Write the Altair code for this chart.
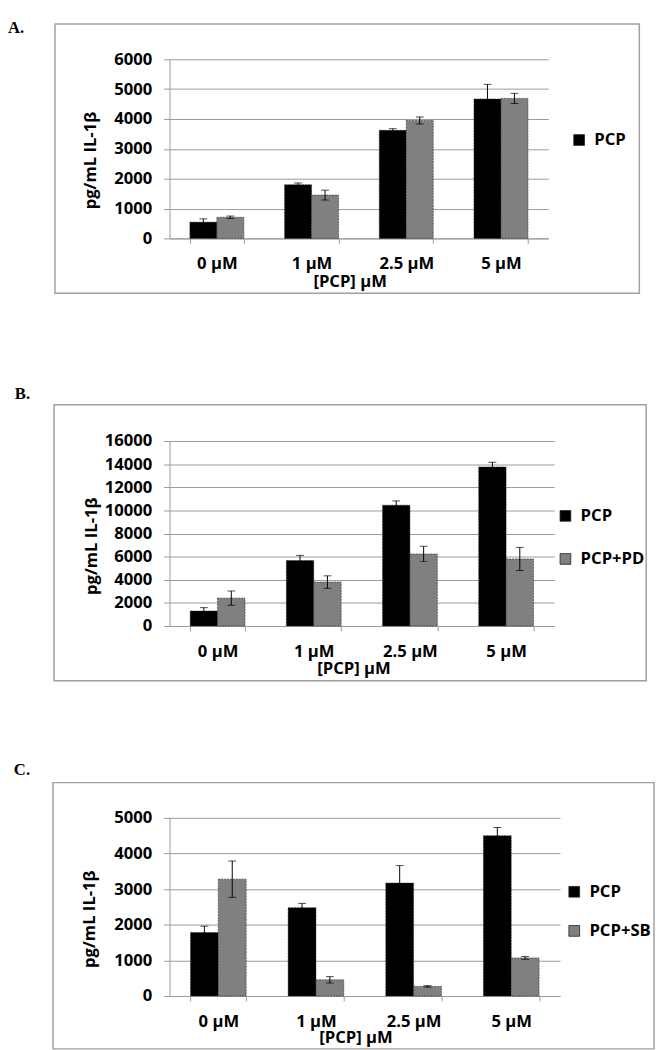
import altair as alt
import pandas as pd

conc = ["0 µM", "1 µM", "2.5 µM", "5 µM"]

# Panel A
a_names = ["PCP", "Control"]
a_pcp = [545, 1800, 3620, 4670]
a_pcp_err = [110, 55, 55, 490]
a_ctl = [709, 1450, 3950, 4690]
a_ctl_err = [40, 165, 120, 170]

# Panel B
b_names = ["PCP", "PCP+PD"]
b_pcp = [1300, 5660, 10450, 13760]
b_pcp_err = [290, 450, 370, 400]
b_pd = [2410, 3800, 6230, 5800]
b_pd_err = [620, 540, 660, 1000]

# Panel C
c_names = ["PCP", "PCP+SB"]
c_pcp = [1780, 2480, 3170, 4500]
c_pcp_err = [180, 120, 490, 230]
c_sb = [3280, 455, 270, 1070]
c_sb_err = [510, 90, 20, 40]

GRID = "#9a9a9a"
BORDER = "#a0a0a0"
FONT = "Open Sans"
YTITLE = "pg/mL IL-1β"
XTITLE = "[PCP] µM"


def frame(names, series):
    rows = []
    for name, (vals, errs) in zip(names, series):
        for c, v, e in zip(conc, vals, errs):
            rows.append({"conc": c, "series": name, "value": v, "lo": v - e, "hi": v + e})
    return pd.DataFrame(rows)


def panel(df, names, legend_vals, ymax, ystep, W, H, letter, letter_xy, border,
          slot, legend_xy, row_pad, ytitle_xy, xtitle_xy):
    one = alt.Data(values=[{"k": 1}])
    xscale = alt.Scale(paddingInner=0.43, paddingOuter=0.215)
    xaxis = alt.Axis(labelAngle=0, tickBand="extent", domainColor=GRID, tickColor=GRID,
                     tickSize=5, labelPadding=13, labelBaseline="top", grid=False,
                     labelOverlap=False, title=XTITLE,
                     titleX=xtitle_xy[0], titleY=xtitle_xy[1], titleAlign="center",
                     titleBaseline="middle")
    yvals = list(range(0, ymax + 1, ystep))
    yaxis = alt.Axis(values=yvals, tickCount=len(yvals), format="d", grid=True,
                     gridColor=GRID, domainColor=GRID, tickColor=GRID, tickSize=6,
                     labelPadding=12, labelOverlap=False, labelFlush=False, title=YTITLE,
                     titleX=ytitle_xy[0], titleY=ytitle_xy[1],
                     titleAngle=270, titleAlign="center", titleBaseline="middle")
    yscale = alt.Scale(domain=[0, ymax], nice=False)

    def X():
        return alt.X("conc:N", sort=conc, scale=xscale, axis=xaxis)

    def Y(field):
        return alt.Y(field, type="quantitative", scale=yscale, axis=yaxis)

    xo = alt.XOffset("series:N", sort=names, scale=alt.Scale(paddingInner=0, paddingOuter=0))
    color = alt.Color(
        "series:N",
        scale=alt.Scale(domain=names, range=["#000000", "#808080"]),
        legend=alt.Legend(title=None, values=legend_vals, orient="none",
                          legendX=legend_xy[0], legendY=legend_xy[1],
                          symbolType="square", symbolSize=120,
                          symbolStrokeColor="#222222", symbolStrokeWidth=0.8,
                          labelFontSize=17, labelFont=FONT, labelFontWeight="bold",
                          labelColor="black", labelOffset=7, rowPadding=row_pad,
                          padding=0),
    )

    slot_rect = alt.Chart(one).mark_rect(opacity=0).encode(
        x=alt.value(slot[0]), x2=alt.value(slot[1]), y=alt.value(slot[2]), y2=alt.value(slot[3]))
    border_rect = alt.Chart(one).mark_rect(fill="transparent", stroke=BORDER, strokeWidth=1.5).encode(
        x=alt.value(border[0]), x2=alt.value(border[1]), y=alt.value(border[2]), y2=alt.value(border[3]))
    letter_t = alt.Chart(one).mark_text(font="Liberation Serif", fontWeight="bold", fontSize=17,
                                        align="left", baseline="middle", color="black").encode(
        x=alt.value(letter_xy[0]), y=alt.value(letter_xy[1]), text=alt.value(letter))

    bars = alt.Chart(df).mark_bar(stroke="#222222", strokeWidth=0.6, strokeDash=[2, 1]).encode(
        x=X(), xOffset=xo, y=Y("value"), color=color)
    rule = alt.Chart(df).mark_rule(color="black", strokeWidth=1).encode(
        x=X(), xOffset=xo, y=Y("lo"), y2="hi:Q")
    tick_lo = alt.Chart(df).mark_tick(color="black", size=8, thickness=1, orient="horizontal").encode(
        x=X(), xOffset=xo, y=Y("lo"))
    tick_hi = alt.Chart(df).mark_tick(color="black", size=8, thickness=1, orient="horizontal").encode(
        x=X(), xOffset=xo, y=Y("hi"))

    return alt.layer(slot_rect, border_rect, letter_t, bars, rule, tick_lo, tick_hi).properties(
        width=W, height=H)


dfA = frame(a_names, [(a_pcp, a_pcp_err), (a_ctl, a_ctl_err)])
dfB = frame(b_names, [(b_pcp, b_pcp_err), (b_pd, b_pd_err)])
dfC = frame(c_names, [(c_pcp, c_pcp_err), (c_sb, c_sb_err)])

A = panel(dfA, a_names, ["PCP"], 6000, 1000, 387, 183, "A.", (-165, -32),
          (-117, 480, -36, 239), (-165, 480, -41, 326), (410, 74), 26, (-81, 103), (184, 44))
B = panel(dfB, b_names, b_names, 16000, 2000, 393, 189, "B.", (-158, -48),
          (-118, 487, -37, 245), (-158, 487, -64, 324), (396, 68), 26, (-80, 107), (188, 44))
C = panel(dfC, c_names, c_names, 5000, 1000, 399, 182, "C.", (-159, -49),
          (-119, 495, -36, 236), (-159, 495, -61, 236), (405, 67), 22, (-82, 103), (190, 43))

chart = alt.vconcat(A, B, C, spacing=0).resolve_scale(
    x="independent", y="independent", color="independent", xOffset="independent"
).resolve_legend(color="independent").properties(padding=0, background="white").configure_view(
    stroke=None
).configure_axis(
    labelFont=FONT, labelFontSize=17, labelFontWeight="bold", labelColor="black",
    titleFont=FONT, titleFontSize=17, titleFontWeight="bold", titleColor="black",
)

chart.save("out.html", embed_options={"renderer": "svg", "actions": False})
